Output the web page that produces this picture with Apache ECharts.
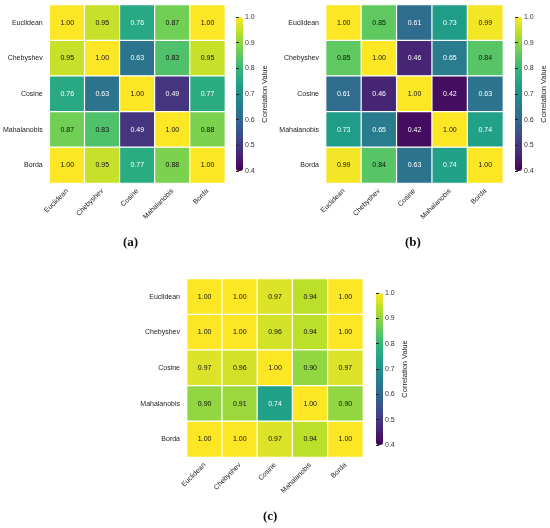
<!DOCTYPE html>
<html><head><meta charset="utf-8">
<script src="https://cdn.jsdelivr.net/npm/echarts@6/dist/echarts.min.js"></script>
<style>html,body{margin:0;padding:0;background:#fff}#c{width:550px;height:528px}</style>
</head><body><div id="c"></div>
<script>
var categories = ['Euclidean','Chebyshev','Cosine','Mahalanobis','Borda'];
var matrixA = [
  [1.00,0.95,0.76,0.87,1.00],
  [0.95,1.00,0.63,0.83,0.95],
  [0.76,0.63,1.00,0.49,0.77],
  [0.87,0.83,0.49,1.00,0.88],
  [1.00,0.95,0.77,0.88,1.00]
];
var matrixB = [
  [1.00,0.85,0.61,0.73,0.99],
  [0.85,1.00,0.46,0.65,0.84],
  [0.61,0.46,1.00,0.42,0.63],
  [0.73,0.65,0.42,1.00,0.74],
  [0.99,0.84,0.63,0.74,1.00]
];
var matrixC = [
  [1.00,1.00,0.97,0.94,1.00],
  [1.00,1.00,0.96,0.94,1.00],
  [0.97,0.96,1.00,0.90,0.97],
  [0.90,0.91,0.74,1.00,0.90],
  [1.00,1.00,0.97,0.94,1.00]
];
var panelLabels = ['(a)','(b)','(c)'];
var cbMin = 0.4, cbMax = 1.0, cbStep = 0.1;
var cbName = 'Correlation Value';

var viridis = ['#440154','#482878','#3e4989','#31688e','#26828e','#1f9e89','#35b779','#6ece58','#b5de2b','#fde725'];
var FONT = 'Liberation Sans, Arial, sans-serif';

var panels = [
  {m: matrixA, grid:{left:47, top:5, width:178, height:178}, cb:{left:236, top:17, width:7, height:154}, lab:{x:135, y:236}},
  {m: matrixB, grid:{left:326, top:5, width:177, height:178}, cb:{left:515, top:17, width:7, height:154}, lab:{x:417, y:236}},
  {m: matrixC, grid:{left:187, top:279, width:176, height:178}, cb:{left:376, top:293, width:7, height:152}, lab:{x:275, y:510}}
];

var grid=[], xAxis=[], yAxis=[], series=[], visualMap=[], graphic=[];
panels.forEach(function(p, i){
  grid.push(p.grid);
  xAxis.push({type:'category', gridIndex:i, data:categories, position:'bottom',
    axisLine:{show:false}, axisTick:{show:false}, splitLine:{show:false},
    axisLabel:{rotate:45, fontSize:7, color:'#222', fontFamily:FONT, margin:7, interval:0}});
  yAxis.push({type:'category', gridIndex:i, data:categories, inverse:true,
    axisLine:{show:false}, axisTick:{show:false}, splitLine:{show:false},
    axisLabel:{fontSize:7, color:'#222', fontFamily:FONT, margin:7, interval:0}});
  var data=[];
  p.m.forEach(function(row, r){
    row.forEach(function(v, c){
      data.push({value:[c, r, v], label:{color: v < 0.8 ? '#ffffff' : '#111111'}});
    });
  });
  series.push({type:'heatmap', xAxisIndex:i, yAxisIndex:i, data:data,
    itemStyle:{borderColor:'#ffffff', borderWidth:1.2},
    label:{show:true, fontSize:7, fontFamily:FONT, formatter:function(d){return d.value[2].toFixed(2);}},
    emphasis:{disabled:true}});
  visualMap.push({type:'continuous', seriesIndex:i, dimension:2, min:cbMin, max:cbMax,
    calculable:false, show:true, left:p.cb.left, top:p.cb.top, itemWidth:p.cb.width, itemHeight:p.cb.height,
    padding:0, orient:'vertical', inRange:{color:viridis}, text:null, hoverLink:false});
});
// colourbar tick axes
panels.forEach(function(p, i){
  var gi = 3 + i;
  grid.push({left:p.cb.left, top:p.cb.top, width:p.cb.width, height:p.cb.height});
  xAxis.push({type:'value', gridIndex:gi, show:false});
  yAxis.push({type:'value', gridIndex:gi, position:'right', min:cbMin, max:cbMax, interval:cbStep,
    axisLine:{show:true, lineStyle:{color:'rgba(0,0,0,0)'}}, splitLine:{show:false},
    axisTick:{show:true, inside:false, length:3, lineStyle:{color:'#222', width:1}},
    axisLabel:{fontSize:7, color:'#333', fontFamily:FONT, margin:2, formatter:function(v){return v.toFixed(1);}},
    name:cbName, nameLocation:'middle', nameRotate:90, nameGap:18,
    nameTextStyle:{fontSize:7.5, color:'#222', fontFamily:FONT}, z:10});
  graphic.push({type:'text', left:p.lab.x - 12, top:p.lab.y,
    style:{text:panelLabels[i], font:'bold 13px "Liberation Serif", serif', fill:'#111', textAlign:'left'}});
});

var chart = echarts.init(document.getElementById('c'), null, {renderer:'canvas'});
chart.setOption({animation:false, grid:grid, xAxis:xAxis, yAxis:yAxis, series:series, visualMap:visualMap, graphic:graphic});
</script></body></html>
